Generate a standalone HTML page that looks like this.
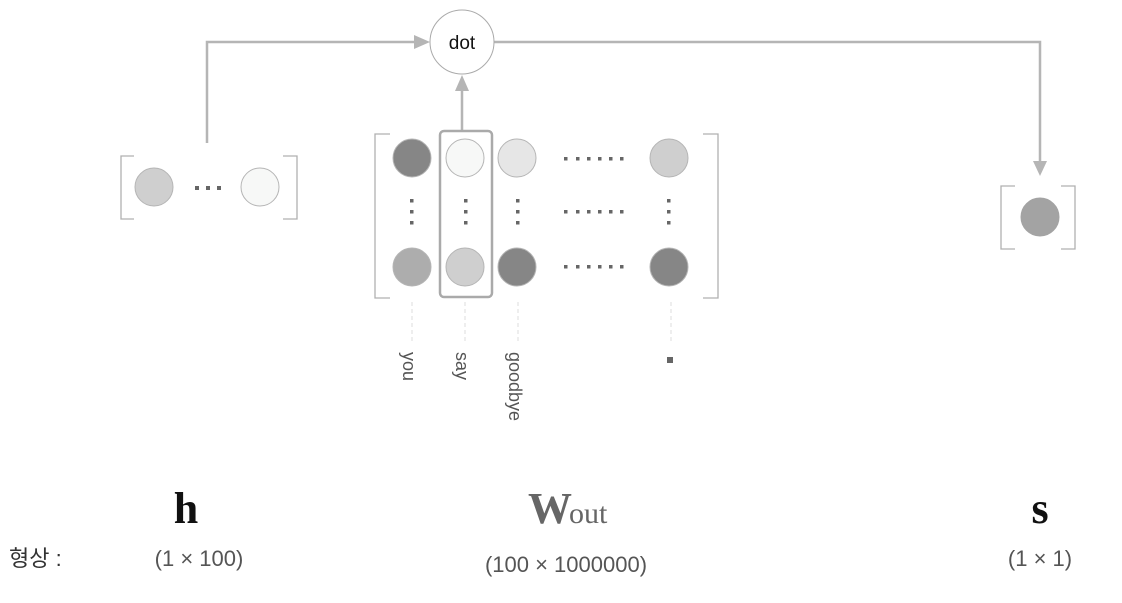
<!DOCTYPE html>
<html><head><meta charset="utf-8"><style>
html,body{margin:0;padding:0;background:#fff;}
svg{display:block;}
</style></head><body>
<svg width="1122" height="603" viewBox="0 0 1122 603" xmlns="http://www.w3.org/2000/svg">
<g fill="none" stroke="#b5b5b5" stroke-width="2.5">
  <polyline points="207,143 207,42 418,42"/>
  <polyline points="494,42 1040,42 1040,163"/>
  <line x1="462" y1="131" x2="462" y2="90"/>
</g>
<g fill="#b5b5b5">
  <polygon points="430,42 414,35 414,49"/>
  <polygon points="1040,176 1033,161 1047,161"/>
  <polygon points="462,75 455,91 469,91"/>
</g>
<circle cx="462" cy="42" r="32" fill="#fff" stroke="#aaa" stroke-width="1"/>
<text x="462" y="49" text-anchor="middle" font-family="Liberation Sans, sans-serif" font-size="19" fill="#111">dot</text>

<!-- h vector -->
<g fill="none" stroke="#b0b0b0" stroke-width="1.3">
  <polyline points="134,156 121,156 121,219 134,219"/>
  <polyline points="283,156 297,156 297,219 283,219"/>
  <polyline points="390,134 375,134 375,298 390,298"/>
  <polyline points="703,134 718,134 718,298 703,298"/>
  <polyline points="1015,186 1001,186 1001,249 1015,249"/>
  <polyline points="1061,186 1075,186 1075,249 1061,249"/>
</g>
<g stroke="#b5b5b5" stroke-width="1">
  <circle cx="154" cy="187" r="19" fill="#cfcfcf"/>
  <circle cx="260" cy="187" r="19" fill="#f7f8f7"/>
  <circle cx="1040" cy="217" r="19" fill="#a3a3a3" stroke="#a3a3a3"/>
  <circle cx="412" cy="158" r="19" fill="#868686"/>
  <circle cx="465" cy="158" r="19" fill="#f7f8f7"/>
  <circle cx="517" cy="158" r="19" fill="#e6e6e6"/>
  <circle cx="669" cy="158" r="19" fill="#cfcfcf"/>
  <circle cx="412" cy="267" r="19" fill="#adadad"/>
  <circle cx="465" cy="267" r="19" fill="#cfcfcf"/>
  <circle cx="517" cy="267" r="19" fill="#868686"/>
  <circle cx="669" cy="267" r="19" fill="#868686"/>
</g>
<rect x="440" y="131" width="52" height="166" rx="4" fill="none" stroke="#aaa" stroke-width="2.5"/>
<g fill="#666">
  <rect x="195" y="186" width="4" height="4"/><rect x="206" y="186" width="4" height="4"/><rect x="217" y="186" width="4" height="4"/>
  <!-- horizontal dots rows -->
  <rect x="564" y="157" width="3.5" height="3.5"/><rect x="576" y="157" width="3.5" height="3.5"/><rect x="587" y="157" width="3.5" height="3.5"/><rect x="598" y="157" width="3.5" height="3.5"/><rect x="609" y="157" width="3.5" height="3.5"/><rect x="620" y="157" width="3.5" height="3.5"/>
  <rect x="564" y="210" width="3.5" height="3.5"/><rect x="576" y="210" width="3.5" height="3.5"/><rect x="587" y="210" width="3.5" height="3.5"/><rect x="598" y="210" width="3.5" height="3.5"/><rect x="609" y="210" width="3.5" height="3.5"/><rect x="620" y="210" width="3.5" height="3.5"/>
  <rect x="564" y="265" width="3.5" height="3.5"/><rect x="576" y="265" width="3.5" height="3.5"/><rect x="587" y="265" width="3.5" height="3.5"/><rect x="598" y="265" width="3.5" height="3.5"/><rect x="609" y="265" width="3.5" height="3.5"/><rect x="620" y="265" width="3.5" height="3.5"/>
  <!-- vertical dots -->
  <rect x="410" y="199" width="3.5" height="3.5"/><rect x="410" y="210" width="3.5" height="3.5"/><rect x="410" y="221" width="3.5" height="3.5"/>
  <rect x="464" y="199" width="3.5" height="3.5"/><rect x="464" y="210" width="3.5" height="3.5"/><rect x="464" y="221" width="3.5" height="3.5"/>
  <rect x="516" y="199" width="3.5" height="3.5"/><rect x="516" y="210" width="3.5" height="3.5"/><rect x="516" y="221" width="3.5" height="3.5"/>
  <rect x="667" y="199" width="3.5" height="3.5"/><rect x="667" y="210" width="3.5" height="3.5"/><rect x="667" y="221" width="3.5" height="3.5"/>
  <rect x="667" y="357" width="6" height="6"/>
</g>
<g stroke="#ddd" stroke-width="1" stroke-dasharray="4,3">
  <line x1="412" y1="302" x2="412" y2="342"/>
  <line x1="465" y1="302" x2="465" y2="342"/>
  <line x1="518" y1="302" x2="518" y2="342"/>
  <line x1="671" y1="302" x2="671" y2="342"/>
</g>
<g font-family="Liberation Sans, sans-serif" font-size="18" fill="#555">
  <text transform="translate(403,352) rotate(90)">you</text>
  <text transform="translate(456,352) rotate(90)">say</text>
  <text transform="translate(509,352) rotate(90)">goodbye</text>
</g>
<g font-family="Liberation Serif, serif" font-weight="bold">
  <text x="186" y="523" text-anchor="middle" font-size="44" fill="#111">h</text>
  <text x="528" y="523" font-size="44" fill="#666">W</text>
  <text x="569" y="523" font-size="30" font-weight="normal" fill="#666">out</text>
  <text x="1040" y="523" text-anchor="middle" font-size="44" fill="#111">s</text>
</g>
<g font-family="Liberation Sans, 'Noto Sans CJK KR', sans-serif" font-size="22" fill="#555">
  <text x="9" y="566" fill="#333">형상 :</text>
  <text x="199" y="566" text-anchor="middle">(1 × 100)</text>
  <text x="566" y="572" text-anchor="middle">(100 × 1000000)</text>
  <text x="1040" y="566" text-anchor="middle">(1 × 1)</text>
</g>
</svg>
</body></html>
